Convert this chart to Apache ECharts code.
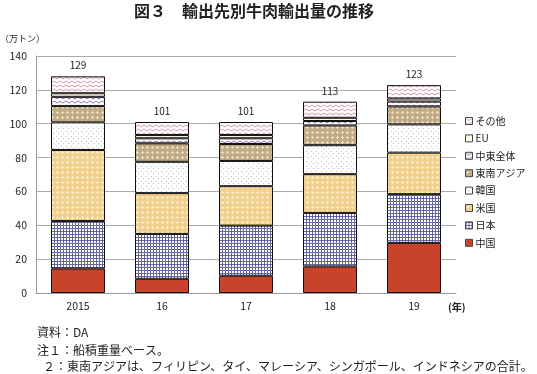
<!DOCTYPE html>
<html><head><meta charset="utf-8">
<script src="https://cdn.jsdelivr.net/npm/echarts@6/dist/echarts.min.js"></script>
<style>html,body{margin:0;padding:0;background:#fff}#c{width:537px;height:374px}</style>
</head><body><div id="c"></div>
<script>
const years = ['2015','16','17','18','19'];
const china = [14.5, 8.4, 10.2, 15.7, 29.6];
const japan = [28.0, 26.5, 29.6, 31.6, 28.8];
const usa = [42.0, 24.1, 23.3, 22.9, 24.5];
const korea = [16.3, 18.5, 14.9, 17.1, 16.7];
const seAsia = [9.6, 10.9, 10.0, 11.7, 10.6];
const middleEast = [5.5, 3.0, 3.4, 2.6, 2.9];
const eu = [2.1, 1.9, 1.9, 1.9, 1.8];
const others = [10.0, 7.7, 7.7, 9.5, 7.9];
const totals = [129, 101, 101, 113, 123];
const yTicks = [0, 20, 40, 60, 80, 100, 120, 140];

function tile(w, h, draw) {
  const c = document.createElement('canvas');
  c.width = w; c.height = h;
  const g = c.getContext('2d');
  draw(g);
  return { image: c, repeat: 'repeat' };
}
const pJapan = tile(3, 3, g => { g.fillStyle = '#fff'; g.fillRect(0,0,3,3); g.fillStyle = '#6565aa'; g.fillRect(0,0,3,1); g.fillRect(0,0,1,3); });
const pUS = tile(5, 5, g => { g.fillStyle = '#f3cf8e'; g.fillRect(0,0,5,5); g.fillStyle = '#fbf0c8'; g.fillRect(2,1,1,3); g.fillRect(1,2,3,1); });
const pKorea = tile(5, 5, g => { g.fillStyle = '#fff'; g.fillRect(0,0,5,5); g.fillStyle = '#b8c4c8'; g.fillRect(1,1,1,1); g.fillRect(3,3,1,1); });
const pSEA = tile(5, 5, g => { g.fillStyle = '#c2ac86'; g.fillRect(0,0,5,5); g.fillStyle = '#ece0c0'; g.fillRect(2,1,1,3); g.fillRect(1,2,3,1); });
const pME = tile(6, 4, g => { g.fillStyle = '#fff'; g.fillRect(0,0,6,4); g.strokeStyle = '#9070b8'; g.lineWidth = 1; g.beginPath(); g.moveTo(0,1); g.lineTo(3,3); g.lineTo(6,1); g.stroke(); });
const pOther = tile(6, 4, g => { g.fillStyle = '#fff'; g.fillRect(0,0,6,4); g.strokeStyle = '#dc98ae'; g.lineWidth = 1; g.beginPath(); g.moveTo(0,1); g.lineTo(3,3); g.lineTo(6,1); g.stroke(); });

const defs = [
  ['中国', china, '#c8432a'],
  ['日本', japan, pJapan],
  ['米国', usa, pUS],
  ['韓国', korea, pKorea],
  ['東南アジア', seAsia, pSEA],
  ['中東全体', middleEast, pME],
  ['EU', eu, '#fffbe4'],
  ['その他', others, pOther]
];
const series = defs.map((d, i) => ({
  name: d[0], type: 'bar', stack: 'a', data: d[1], barWidth: 54,
  itemStyle: { color: d[2], borderColor: '#111', borderWidth: 1 },
  label: i === defs.length - 1 ? { show: true, position: 'top', distance: 6, fontSize: 10, color: '#222',
    fontFamily: 'Noto Sans CJK JP', formatter: p => totals[p.dataIndex] } : { show: false },
  emphasis: { disabled: true }, animation: false
}));

const FF = 'Noto Sans CJK JP';
const chart = echarts.init(document.getElementById('c'));
chart.setOption({
  animation: false,
  textStyle: { fontFamily: FF },
  title: { text: '図３　輸出先別牛肉輸出量の推移', left: 254, textAlign: 'center', top: 3, padding: 0,
    textStyle: { fontSize: 16, fontWeight: 'bold', color: '#222', fontFamily: FF } },
  grid: { left: 36, right: 81, top: 56, bottom: 81 },
  legend: { orient: 'vertical', left: 465, top: 116, padding: 0, icon: 'rect', itemWidth: 7, itemHeight: 7, itemGap: 7.4,
    itemStyle: { borderWidth: 1, borderColor: '#444' },
    data: ['その他','EU','中東全体','東南アジア','韓国','米国','日本','中国'],
    textStyle: { fontSize: 10, color: '#222', padding: [0,0,0,-2] }, selectedMode: false },
  xAxis: { type: 'category', data: years,
    axisLine: { lineStyle: { color: '#999' } }, axisTick: { show: false },
    axisLabel: { fontSize: 10.5, color: '#222', margin: 8 } },
  yAxis: { type: 'value', min: 0, max: 140, interval: 20,
    axisLine: { show: true, lineStyle: { color: '#999' } }, axisTick: { show: false },
    splitLine: { lineStyle: { color: '#aaa' } },
    axisLabel: { fontSize: 10.5, color: '#222', margin: 9, formatter: v => yTicks.includes(v) ? String(v) : '' } },
  graphic: [
    { type: 'text', left: 0, top: 34, style: { text: '（万トン）', fontSize: 9, fill: '#222', fontFamily: FF } },
    { type: 'text', left: 448, top: 302, style: { text: '(年)', fontSize: 10, fontWeight: 'bold', fill: '#222', fontFamily: FF } },
    { type: 'text', left: 37, top: 326, style: { text: '資料：DA', fontSize: 12, fill: '#222', fontFamily: FF } },
    { type: 'text', left: 37, top: 344, style: { text: '注１：船積重量ベース。', fontSize: 12, fill: '#222', fontFamily: FF } },
    { type: 'text', left: 43, top: 360, style: { text: '２：東南アジアは、フィリピン、タイ、マレーシア、シンガポール、インドネシアの合計。', fontSize: 12, fill: '#222', fontFamily: FF } }
  ],
  series: series
});
</script></body></html>
